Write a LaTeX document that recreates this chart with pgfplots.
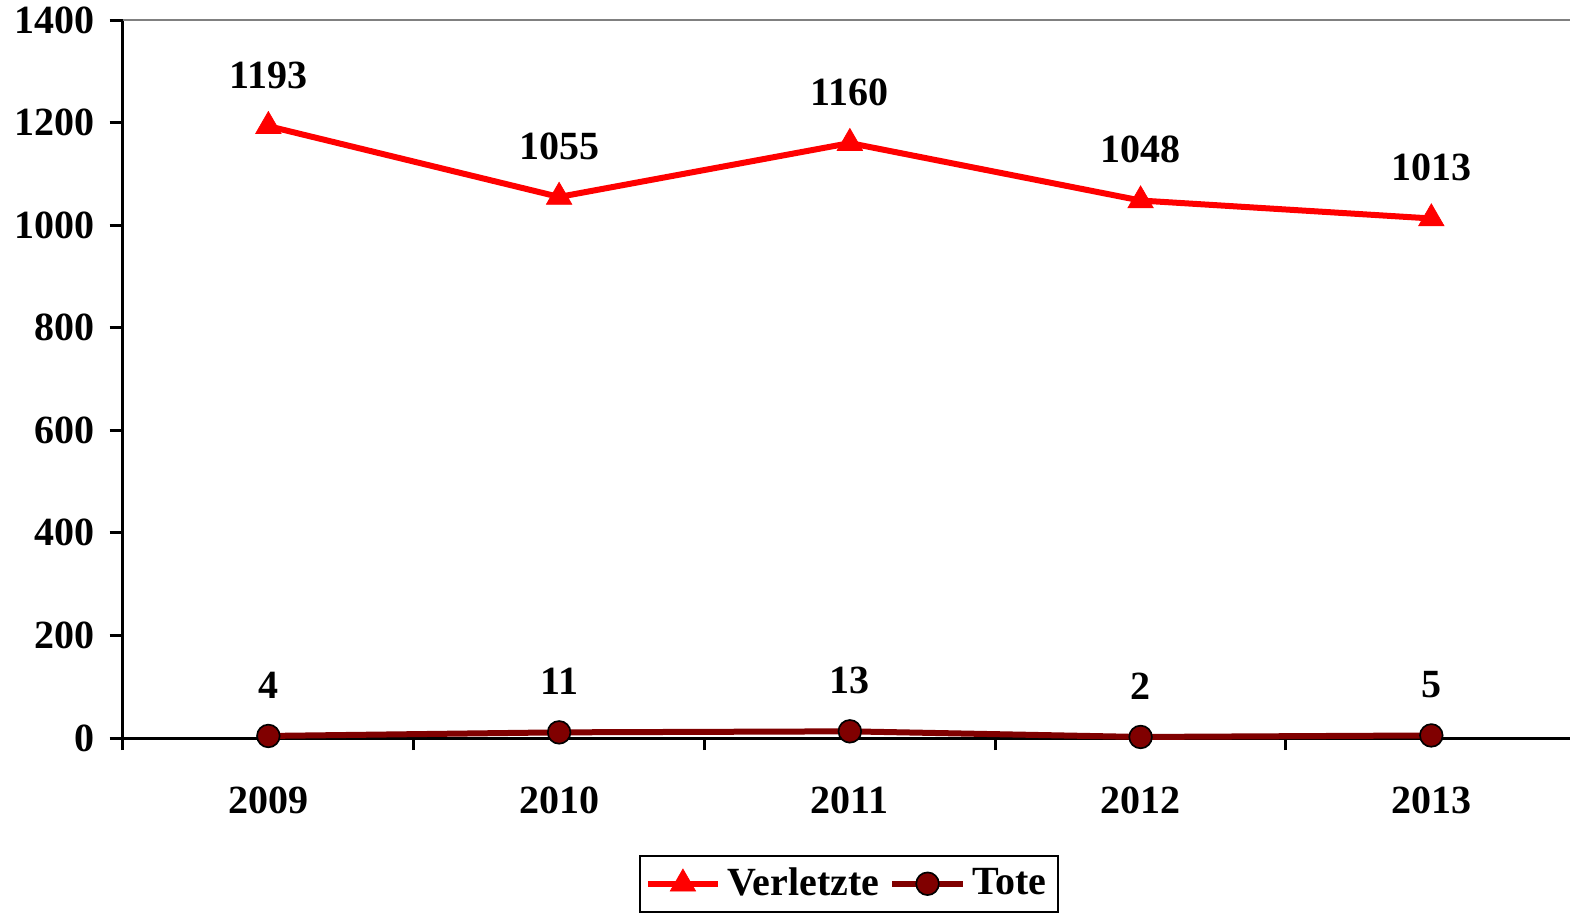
\documentclass[border=0pt]{standalone}
\usepackage{pgfplots}
\pgfplotsset{compat=1.18}
\usepackage{fontspec}
\setmainfont{Liberation Serif}
\definecolor{verl}{HTML}{FF0000}
\definecolor{tote}{HTML}{800000}

\begin{document}
\begin{tikzpicture}
\begin{axis}[
    scale only axis,
    width=434.1pt,
    height=215.4pt,
    xmin=-0.5, xmax=4.477,
    ymin=0, ymax=1400,
    axis x line*=bottom,
    axis y line*=left,
    axis line style={-, black, line width=0.9pt},
    ytick={0,200,...,1400},
    ytick pos=left,
    xtick={0,1,2,3,4},
    xticklabels={2009,2010,2011,2012,2013},
    x tick style={draw=none},
    y tick style={black, line width=0.9pt},
    major tick length=4pt,
    tick align=outside,
    extra x ticks={-0.5,0.5,1.5,2.5,3.5},
    extra x tick labels={},
    extra x tick style={x tick style={draw=black, line width=0.9pt}, major tick length=3.6pt},
    ticklabel style={font=\fontsize{12}{14}\selectfont\bfseries},
    /pgf/number format/assume math mode=true,
    /pgf/number format/1000 sep={},
    yticklabel style={xshift=-1pt},
    xticklabel style={anchor=center, yshift=-14.6pt},
    clip=false,
    nodes near coords,
    every node near coord/.append style={font=\fontsize{12}{14}\selectfont\bfseries, anchor=center, yshift=15.2pt, black},
    legend columns=2,
    legend style={at={(0.5017,-0.1625)}, anchor=north, draw=black, line width=0.6pt,
        font=\fontsize{12}{14}\selectfont\bfseries, inner sep=1.5pt,
        /tikz/every even column/.append style={column sep=1pt}},
    legend image code/.code={\draw[mark repeat=2, mark phase=2, #1]
        plot coordinates {(0cm,0cm) (0.37cm,0cm) (0.74cm,0cm)};},
]
\addplot[verl, line width=1.8pt, mark=triangle*, mark size=4.4pt,
    mark options={solid, fill=verl, draw=verl, line width=0.2pt}]
  coordinates {(0,1193) (1,1055) (2,1160) (3,1048) (4,1013)};
\addlegendentry{Verletzte}
\addplot[tote, line width=1.8pt, mark=*, mark size=3.4pt,
    mark options={solid, fill=tote, draw=black, line width=0.5pt}]
  coordinates {(0,4) (1,11) (2,13) (3,2) (4,5)};
\addlegendentry{Tote}
\draw[gray, line width=0.6pt] (rel axis cs:0,1) -- (rel axis cs:1,1);
\end{axis}
\pgfresetboundingbox
\path[use as bounding box] ([xshift=-36.9pt, yshift=-52.2pt]current axis.south west)
    rectangle ([yshift=6pt]current axis.north east);
\end{tikzpicture}
\end{document}
